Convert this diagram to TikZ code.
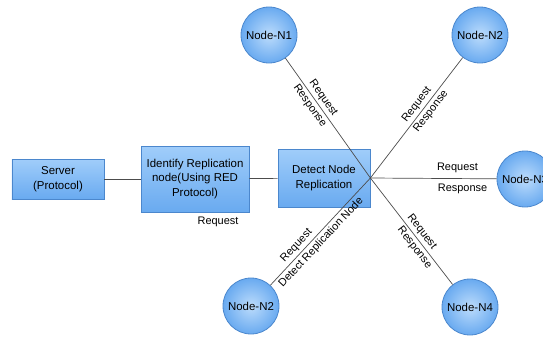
\documentclass[tikz,border=0pt]{standalone}
\usepackage{fontspec}
\setmainfont{Liberation Sans}
\definecolor{boxtop}{RGB}{160,205,250}
\definecolor{boxbot}{RGB}{105,170,240}
\definecolor{boxline}{RGB}{75,135,205}
\tikzset{
	procbox/.style={draw=boxline,thick,top color=boxtop,bottom color=boxbot,align=center,inner sep=0pt,font=\fontsize{11.5}{15}\selectfont},
	peer/.style={circle,draw=boxline,thick,inner color=boxtop!70!white,outer color=boxbot,minimum size=56bp,inner sep=0pt,font=\fontsize{11.5}{14}\selectfont},
	link/.style={draw=black!70,line width=0.7pt},
	lbl/.style={font=\fontsize{11}{13}\selectfont,inner sep=1.5pt}
}

\begin{document}
\begin{tikzpicture}[x=1bp,y=-1bp]
	\clip (0,0) rectangle (543,337);
	% boxes
	\node[procbox,minimum width=92bp,minimum height=40bp] (server) at (58,179) {Server\\(Protocol)};
	\node[procbox,minimum width=108bp,minimum height=66bp] (identify) at (195,179) {Identify Replication\\node(Using RED\\Protocol)};
	\node[procbox,minimum width=92bp,minimum height=58bp] (detect) at (324,178) {Detect Node\\Replication};
	\node[lbl,anchor=north,yshift=-3bp] (req) at (identify.south -| 218,0) {Request};
	\coordinate (hub) at (detect.east);
	% sensor nodes
	\node[peer] (n1) at (269,35) {Node-N1};
	\node[peer] (n2) at (480,35) {Node-N2};
	\node[peer] (n3) at (525,179) {Node-N3};
	\node[peer] (n4) at (470,307) {Node-N4};
	\node[peer] (n2b) at (251,306) {Node-N2};
	% links
	\draw[link] (server) -- (identify);
	\draw[link] (identify) -- (detect);
	\draw[link] (n1) -- (hub) node[lbl,pos=.37,sloped,above=1pt] {Request} node[lbl,pos=.36,sloped,below=1pt] {Response};
	\draw[link] (hub) -- (n2) node[lbl,pos=.57,sloped,above=1pt] {Request} node[lbl,pos=.59,sloped,below=1pt] {Response};
	\draw[link] (hub) -- (n3) node[lbl,pos=.69,above=4pt] {Request} node[lbl,pos=.73,below=4pt] {Response};
	\draw[link] (hub) -- (n4) node[lbl,pos=.55,sloped,above=1pt] {Request} node[lbl,pos=.61,sloped,below=1pt] {Response};
	\draw[link] (n2b) -- (hub) node[lbl,pos=.32,sloped,above=1pt] {Request} node[lbl,pos=.45,sloped,below=1pt] {Detect Replication Node};
\end{tikzpicture}
\end{document}
